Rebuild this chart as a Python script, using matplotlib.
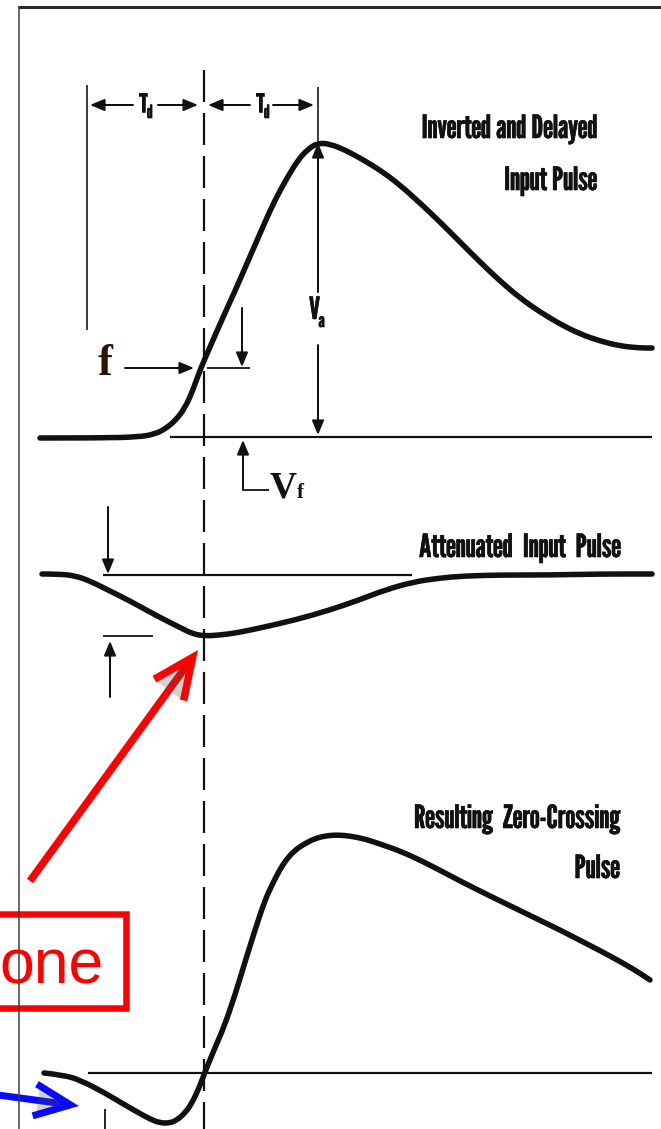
import matplotlib
matplotlib.use("Agg")
import matplotlib.pyplot as plt
from matplotlib.patches import FancyArrowPatch, Rectangle, PathPatch
from matplotlib.path import Path
import matplotlib.patheffects as pe

plt.rcParams["lines.scale_dashes"] = False

# ---- pulse shapes (pixel coordinates, y grows downward) ----
top_x = [40, 100, 139, 155, 165, 175, 185, 193, 200, 210, 224, 235, 245, 255, 265, 275,
         287, 298, 308, 318, 330, 345, 360, 380, 400, 420, 440, 460, 480, 500, 520, 540,
         560, 580, 600, 620, 640, 652]
top_y = [438, 438, 437, 434, 429, 421, 408, 390, 370, 347, 315, 291, 268, 245, 222, 200,
         178, 160, 149, 143, 144, 150, 158, 170, 185, 203, 222, 242, 262, 281, 298, 312,
         324, 334, 341, 346, 348, 348]

mid_x = [42, 60, 76, 90, 110, 130, 148, 165, 181, 193, 205, 220, 236, 260, 295, 330,
         359, 385, 413, 440, 464, 500, 549, 600, 652]
mid_y = [574, 574, 576, 581, 591, 601, 611, 620, 628, 634, 636, 635, 633, 628, 620, 610,
         600, 590, 582, 578, 576, 575, 575, 574, 574]

bot_x = [44, 63, 80, 105, 125, 139, 150, 160, 170, 177, 185, 192, 199, 205, 214, 224,
         235, 245, 255, 265, 272, 279, 286, 294, 304, 316, 328, 338, 350, 365, 380, 400,
         422, 445, 464, 490, 527, 560, 591, 612, 635, 650]
bot_y = [1073, 1075, 1080, 1093, 1105, 1113, 1119, 1123, 1123, 1120, 1113, 1103, 1088,
         1072, 1050, 1027, 995, 962, 930, 900, 885, 871, 860, 851, 844, 838, 835.5, 835,
         836, 839, 844, 851, 861, 873, 883, 896, 914, 930, 946, 957, 970, 980]

# ---- captions ----
top_caption = ["Inverted and Delayed", "Input Pulse"]
mid_caption = "Attenuated  Input  Pulse"
bot_caption = ["Resulting  Zero-Crossing", "Pulse"]
delay_symbol = ("T", "d")
amp_symbol = ("V", "a")
frac_symbol = "f"
frac_level_symbol = ("V", "f")
callout_text = "one"

W, H = 661, 1129
fig = plt.figure(figsize=(W / 100, H / 100), dpi=100)
ax = fig.add_axes([0, 0, 1, 1])
ax.set_xlim(0, W)
ax.set_ylim(H, 0)
ax.axis("off")

def px(v):
    return v * 0.72

INK = "#111111"
COND = ["League Gothic", "DejaVu Sans"]
SERIF = ["Liberation Serif", "DejaVu Serif"]
heavy = [pe.withStroke(linewidth=0.45, foreground=INK)]

def line(xs, ys, w=2.0, color=INK, **kw):
    ax.plot(xs, ys, color=color, lw=px(w), solid_capstyle="butt", **kw)

def arrow(p0, p1, w=2.0, hl=12, hw=5, color=INK):
    a = FancyArrowPatch(p0, p1, arrowstyle=f"-|>,head_length={px(hl)},head_width={px(hw)}",
                        mutation_scale=1, lw=px(w), color=color, shrinkA=0, shrinkB=0)
    ax.add_patch(a)

def smooth_trace(xs, ys, w=5.5):
    # quadratic Bezier chain: each listed point acts as a control point
    pts = list(zip(xs, ys))
    verts = [pts[0]]
    codes = [Path.MOVETO]
    for i in range(1, len(pts) - 1):
        mx = (pts[i][0] + pts[i + 1][0]) / 2
        my = (pts[i][1] + pts[i + 1][1]) / 2
        verts += [pts[i], (mx, my)]
        codes += [Path.CURVE3, Path.CURVE3]
    verts.append(pts[-1])
    codes.append(Path.LINETO)
    ax.add_patch(PathPatch(Path(verts, codes), fill=False, ec=INK, lw=px(w),
                           capstyle="round", joinstyle="round"))

# frame
line([18, W], [6.5, 6.5], w=3, color="#2a2a2a")
line([19, 19], [6, H], w=1.5, color="#3a3a3a")

# dashed reference line through the crossing
ax.plot([204, 204], [70, H], color=INK, lw=px(2.2), dashes=(px(32), px(11)))

# pulses
for xs, ys in ((top_x, top_y), (mid_x, mid_y), (bot_x, bot_y)):
    smooth_trace(xs, ys)

# baselines
line([170, 652], [437, 437], w=2.2)
line([103, 412], [575, 575], w=2.2)
line([88, 652], [1073, 1073], w=2.2)

# ---- top panel annotations ----
line([87, 87], [85, 330], w=1.6)
line([318, 318], [87, 142], w=1.6)
yT = 105
arrow((133, yT), (90, yT))
arrow((158, yT), (198, yT))
arrow((250, yT), (208, yT))
arrow((273, yT), (314, yT))
for xT in (139, 256):
    ax.text(xT, yT + 7, delay_symbol[0], family=COND, fontsize=19, color=INK,
            ha="left", va="baseline", path_effects=heavy)
    ax.text(xT + 8, yT + 13, delay_symbol[1], family=COND, fontsize=13, color=INK,
            ha="left", va="baseline", path_effects=heavy)

# amplitude arrow with label gap
arrow((318, 292), (318, 143))
arrow((318, 345), (318, 435))
ax.text(309, 319, amp_symbol[0], family=COND, fontsize=22, color=INK, ha="left",
        va="baseline", path_effects=heavy)
ax.text(318.5, 327, amp_symbol[1], family=COND, fontsize=14, color=INK, ha="left",
        va="baseline", path_effects=heavy)

# fraction level
ax.text(98, 375, frac_symbol, family=SERIF, fontsize=32, weight="bold", color="#2a1606",
        ha="left", va="baseline")
arrow((125, 368), (194, 368))
line([207, 250], [368, 368], w=1.8)
arrow((242, 308), (242, 367))

# V_f marker
arrow((243, 490), (243, 440))
line([242.5, 269], [490, 490], w=1.8)
ax.text(270, 497, frac_level_symbol[0], family=SERIF, fontsize=27, weight="bold", color=INK,
        ha="left", va="baseline")
ax.text(297, 498, frac_level_symbol[1], family=SERIF, fontsize=15, weight="bold", color=INK,
        ha="left", va="baseline")

cap_kw = dict(family=COND, fontsize=23, color=INK, va="baseline", ha="right",
              path_effects=heavy)
ax.text(597, 138, top_caption[0], **cap_kw)
ax.text(597, 190, top_caption[1], **cap_kw)

# ---- middle panel annotations ----
arrow((108, 507), (108, 574))
line([103, 153], [636, 636], w=1.8)
arrow((110, 697), (110, 641))
ax.text(620, 557, mid_caption, **cap_kw)

# ---- bottom panel annotations ----
line([105, 105], [1109, H], w=1.8)
ax.text(620, 828, bot_caption[0], **cap_kw)
ax.text(620, 878, bot_caption[1], **cap_kw)

# ---- callouts ----
shadow = [pe.SimplePatchShadow(offset=(2, -2), alpha=0.25), pe.Normal()]
red = FancyArrowPatch((30, 881), (198, 650),
                      arrowstyle=f"->,head_length={px(40)},head_width={px(18)}",
                      mutation_scale=1, lw=px(7.5), color="#ff0000", shrinkA=0, shrinkB=0,
                      capstyle="butt", joinstyle="miter")
red.set_path_effects(shadow)
ax.add_patch(red)

blue = FancyArrowPatch((-2, 1095), (79, 1106),
                       arrowstyle=f"->,head_length={px(36)},head_width={px(16)}",
                       mutation_scale=1, lw=px(7), color="#0a0aff", shrinkA=0, shrinkB=0,
                       capstyle="butt", joinstyle="miter")
blue.set_path_effects(shadow)
ax.add_patch(blue)

ax.add_patch(Rectangle((-10, 914), 136, 94, fill=False, ec="#ff0000", lw=px(6.5),
                       joinstyle="miter"))
ax.text(104, 984, callout_text, family=["Liberation Sans", "DejaVu Sans"], fontsize=45,
        color="#ff0000", ha="right", va="baseline")

fig.savefig("out.png", dpi=100)
